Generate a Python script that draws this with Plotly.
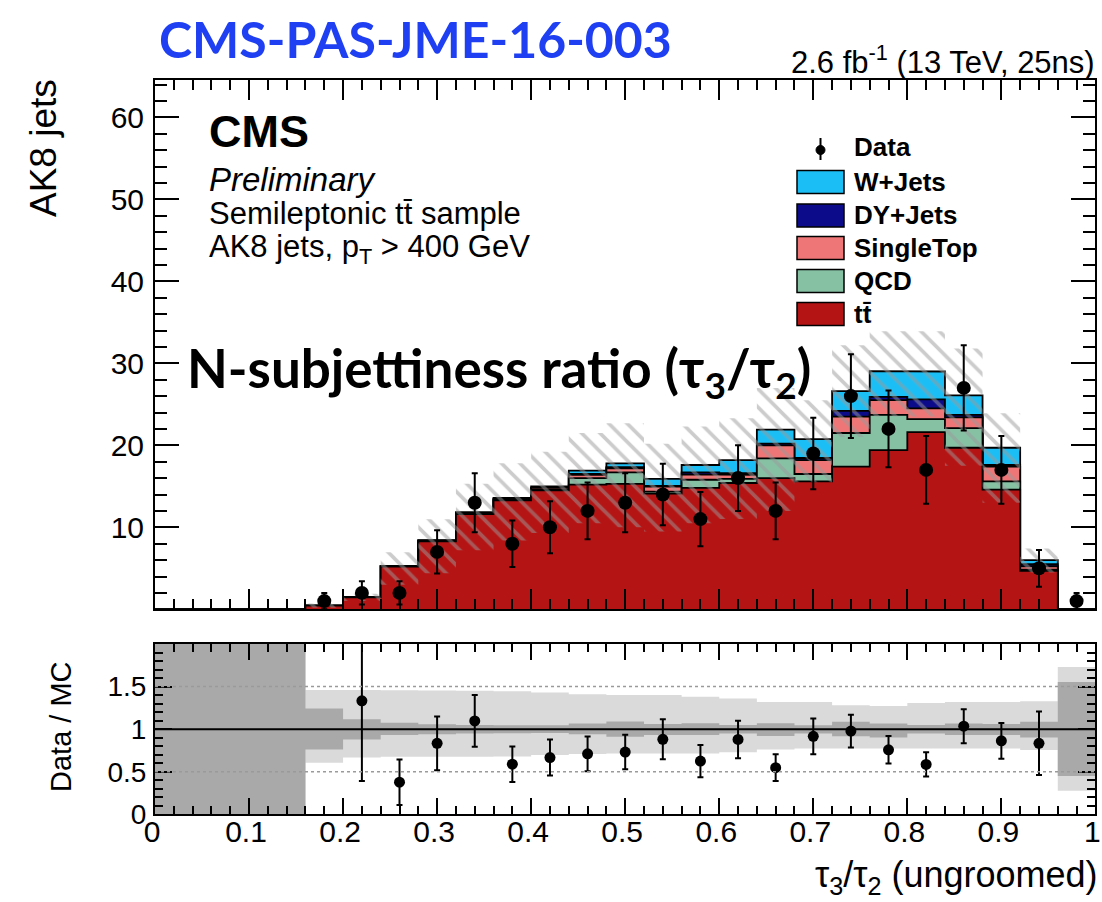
import numpy as np
import plotly.graph_objects as go

# ---- binning: 25 bins of tau3/tau2 ----
edges = np.round(np.linspace(0.0, 1.0, 26), 2)
centers = (edges[:-1] + edges[1:]) / 2

# ---- stacked MC yields per bin ----
ttbar = [0, 0, 0, 0, 0.45, 1.45, 5.2, 8.3, 11.6, 13.3, 14.5, 15.2, 15.3, 14.1, 14.8,
         15.4, 16.0, 15.6, 17.4, 19.4, 21.6, 19.7, 14.6, 4.7, 0]
qcd = [0, 0, 0, 0, 0, 0, 0, 0, 0, 0, 0.1, 0.8, 1.4, 0.25, 1.0,
       0.5, 2.4, 0.9, 4.1, 4.3, 1.6, 2.4, 1.0, 0.15, 0]
singletop = [0, 0, 0, 0, 0, 0.05, 0.1, 0.1, 0.15, 0.15, 0.2, 0.4, 0.5, 0.6, 0.65,
             0.5, 1.6, 1.7, 2.0, 1.8, 1.3, 1.3, 1.8, 0.4, 0]
dyjets = [0, 0, 0, 0, 0, 0, 0, 0, 0, 0.05, 0.05, 0.1, 0.15, 0.1, 0.25,
          0.2, 0.2, 0.25, 0.7, 0.4, 1.1, 0.3, 0.2, 0.25, 0]
wjets = [0, 0, 0, 0, 0, 0, 0, 0, 0.1, 0.1, 0.15, 0.4, 0.45, 0.85, 0.9,
         1.6, 1.7, 2.3, 2.4, 3.15, 3.4, 2.4, 2.1, 0.5, 0]

# ---- observed counts (None = empty bin) ----
data = [None, None, None, None, 1, 2, 2, 7, 13, 8, 10, 12, 13, 14, 11,
        16, 12, 19, 26, 22, 17, 27, 17, 5, 1]

# ---- MC systematic envelope in the upper panel (absolute yields) ----
mc_band_hi = [0, 0, 0, 0, 0.7, 1.9, 6.95, 10.97, 15.3, 17.8, 19.2, 21.5, 22.7, 20.2, 22.3,
              23.3, 27.0, 25.5, 32.2, 33.9, 33.9, 31.8, 23.9, 7.4, 0]
mc_band_lo = [0, 0, 0, 0, 0.2, 1.0, 3.0, 4.4, 7.2, 8.4, 9.3, 10.5, 10.0, 9.5, 10.5,
              11.0, 12.0, 15.5, 21.0, 23.5, 23.5, 17.5, 13.0, 4.5, 0]

# ---- ratio-panel uncertainty bands (relative to MC) ----
stat_hi = [2, 2, 2, 2, 1.243, 1.117, 1.074, 1.059, 1.05, 1.047, 1.045, 1.067, 1.09, 1.06, 1.07,
           1.05, 1.07, 1.047, 1.086, 1.067, 1.05, 1.067, 1.06, 1.086, 1.555]
stat_lo = [0, 0, 0, 0, 0.762, 0.879, 0.93, 0.941, 0.95, 0.953, 0.955, 0.94, 0.91, 0.93, 0.93,
           0.95, 0.92, 0.95, 0.918, 0.903, 0.95, 0.93, 0.93, 0.903, 0.449]
tot_hi = [2, 2, 2, 2, 1.46, 1.46, 1.457, 1.455, 1.45, 1.445, 1.43, 1.41, 1.40, 1.40, 1.38,
          1.36, 1.32, 1.32, 1.281, 1.273, 1.308, 1.32, 1.32, 1.328, 1.73]
tot_lo = [0, 0, 0, 0, 0.605, 0.668, 0.675, 0.675, 0.675, 0.68, 0.695, 0.707, 0.715, 0.715, 0.715,
          0.73, 0.76, 0.774, 0.774, 0.774, 0.774, 0.774, 0.774, 0.754, 0.277]

# ---- axis ticks ----
x_ticks = [0, 0.1, 0.2, 0.3, 0.4, 0.5, 0.6, 0.7, 0.8, 0.9, 1]
x_ticklabels = ["0", "0.1", "0.2", "0.3", "0.4", "0.5", "0.6", "0.7", "0.8", "0.9", "1"]
y_ticks = [10, 20, 30, 40, 50, 60]
r_ticks = [0, 0.5, 1, 1.5]
r_ticklabels = ["0", "0.5", "1", "1.5"]

# ---- colours ----
C_TT = "#b51414"
C_QCD = "#86c1a4"
C_ST = "#ef7676"
C_DY = "#0c0c8a"
C_WJ = "#1cbff5"

W, H = 1102, 902


def fx(p):
    return p / W


def fy(p):
    return 1 - p / H


def step_xy(vals):
    xs, ys = [], []
    for i, v in enumerate(vals):
        xs += [edges[i], edges[i + 1]]
        ys += [v, v]
    return xs, ys


fig = go.Figure()

# stacked histograms: draw cumulative sums from the top layer down
layers = [("W+Jets", C_WJ), ("DY+Jets", C_DY), ("SingleTop", C_ST), ("QCD", C_QCD), ("tt", C_TT)]
comp = np.array([ttbar, qcd, singletop, dyjets, wjets], dtype=float)
cum = np.cumsum(comp, axis=0)  # tt, +qcd, +st, +dy, +wj
mc_total = cum[-1]
for k, (name, col) in enumerate(layers):
    vals = cum[len(layers) - 1 - k]
    xs, ys = step_xy(vals)
    fig.add_trace(go.Scatter(x=xs, y=ys, mode="lines", fill="tozeroy", fillcolor=col,
                             line=dict(color="black", width=1.8), showlegend=False,
                             hoverinfo="skip", xaxis="x", yaxis="y"))

# hatched MC uncertainty envelope
xh, yh = step_xy(mc_band_hi)
xl, yl = step_xy(mc_band_lo)
fig.add_trace(go.Scatter(x=xh + xl[::-1], y=yh + yl[::-1], mode="none", fill="toself",
                         fillcolor="rgba(0,0,0,0)",
                         fillpattern=dict(shape="\\", fgcolor="#9a9a9a", bgcolor="rgba(0,0,0,0)",
                                          size=13, solidity=0.28, fillmode="overlay"),
                         showlegend=False, hoverinfo="skip", xaxis="x", yaxis="y"))

# data points with Poisson errors
dvals = np.array([np.nan if d is None else d for d in data], dtype=float)
fig.add_trace(go.Scatter(x=centers, y=dvals, mode="markers",
                         marker=dict(color="black", size=14),
                         error_y=dict(type="data", array=np.sqrt(dvals), color="black",
                                      thickness=2, width=3),
                         showlegend=False, xaxis="x", yaxis="y"))

# ---- ratio panel ----
for hi, lo, col in [(tot_hi, tot_lo, "#dadada"), (stat_hi, stat_lo, "#a9a9a9")]:
    xh, yh = step_xy(hi)
    xl, yl = step_xy(lo)
    fig.add_trace(go.Scatter(x=xh + xl[::-1], y=yh + yl[::-1], mode="none", fill="toself",
                             fillcolor=col, showlegend=False, hoverinfo="skip",
                             xaxis="x2", yaxis="y2"))

with np.errstate(divide="ignore", invalid="ignore"):
    ratio = np.where(mc_total > 0, dvals / mc_total, np.nan)
    ratio_err = np.where(mc_total > 0, np.sqrt(dvals) / mc_total, np.nan)
ratio = np.where(ratio <= 2, ratio, np.nan)
fig.add_trace(go.Scatter(x=centers, y=ratio, mode="markers",
                         marker=dict(color="black", size=11),
                         error_y=dict(type="data", array=ratio_err, color="black",
                                      thickness=2, width=3),
                         showlegend=False, xaxis="x2", yaxis="y2"))

# reference lines in the ratio panel
fig.add_shape(type="line", xref="x2", yref="y2", x0=0, x1=1, y0=1, y1=1,
              line=dict(color="black", width=2), layer="above")
for yv in (0.5, 1.5):
    fig.add_shape(type="line", xref="x2", yref="y2", x0=0, x1=1, y0=yv, y1=yv,
                  line=dict(color="#9a9a9a", width=1.5, dash="dot"), layer="above")

# ---- axes ----
xdom = [fx(155), fx(1095.4)]
axis_common = dict(showline=True, linecolor="black", linewidth=2, mirror="allticks",
                   showgrid=False, zeroline=False, ticks="inside", tickcolor="black",
                   tickwidth=1.5, automargin=False, ticklabeloverflow="allow")
fig.update_layout(
    template="none",
    xaxis=dict(domain=xdom, range=[0, 1], anchor="y", tickvals=x_ticks, ticklen=20,
               showticklabels=False,
               minor=dict(dtick=0.02, ticklen=10, ticks="inside", tickcolor="black", tickwidth=1.5),
               **axis_common),
    yaxis=dict(domain=[fy(609.3), fy(80)], range=[0, 64.55], anchor="x",
               tickvals=y_ticks, ticklen=24,
               tickfont=dict(family="Liberation Sans", size=30, color="black"),
               ticklabelstandoff=3,
               minor=dict(dtick=2, ticklen=12, ticks="inside", tickcolor="black", tickwidth=1.5),
               **axis_common),
    xaxis2=dict(domain=xdom, range=[0, 1], anchor="y2", tickvals=x_ticks, ticktext=x_ticklabels,
                ticklen=16,
                tickfont=dict(family="Liberation Sans", size=30, color="black"),
                ticklabelstandoff=-10, ticklabelshift=-3,
                minor=dict(dtick=0.02, ticklen=8, ticks="inside", tickcolor="black", tickwidth=1.5),
                **axis_common),
    yaxis2=dict(domain=[fy(814.3), fy(644)], range=[0, 2], anchor="x2",
                tickvals=r_ticks, ticktext=r_ticklabels, ticklen=17,
                tickfont=dict(family="Liberation Sans", size=28, color="black"),
                ticklabelstandoff=1,
                minor=dict(dtick=0.1, ticklen=8, ticks="inside", tickcolor="black", tickwidth=1.5),
                **axis_common),
)

# ---- texts ----
ann = []


def text(x, y, s, size, xanchor="left", yanchor="middle", family="Liberation Sans",
         color="black", angle=0):
    ann.append(dict(x=fx(x), y=fy(y), xref="paper", yref="paper", text=s, showarrow=False,
                    xanchor=xanchor, yanchor=yanchor, textangle=angle, borderpad=0,
                    font=dict(family=family, size=size, color=color)))


TT = "tt\u0304"
text(158, 39, "<b>CMS-PAS-JME-16-003</b>", 50, family="Lato", color="#1e3ff2")
text(1096, 60, "2.6 fb<sup>-1</sup> (13 TeV, 25ns)", 31, xanchor="right")
text(208, 131, "<b>CMS</b>", 45)
text(208, 179, "<i>Preliminary</i>", 33)
text(208, 213.5, "Semileptonic %s sample" % TT, 31)
text(208, 249, "AK8 jets, p<sub>T</sub> > 400 GeV", 31)
text(186, 372, "<b>N-subjettiness ratio (τ<sub>3</sub>/τ<sub>2</sub>)</b>", 53, family="Lato")
text(44, 78, "AK8 jets", 37, xanchor="center", yanchor="top", angle=-90)
text(61, 727, "Data / MC", 29, xanchor="center", angle=-90)
text(1099, 877, "τ<sub>3</sub>/τ<sub>2</sub> (ungroomed)", 36, xanchor="right")

# ---- legend (drawn in paper coordinates) ----
shapes = []
leg_x0, leg_x1, leg_tx = 797, 844, 853
shapes.append(dict(type="line", xref="paper", yref="paper", x0=fx(820.5), x1=fx(820.5),
                   y0=fy(138), y1=fy(160), line=dict(color="black", width=2)))
shapes.append(dict(type="circle", xref="paper", yref="paper", x0=fx(816), x1=fx(825),
                   y0=fy(145.5), y1=fy(154.5), fillcolor="black", line=dict(color="black", width=1)))
text(leg_tx, 147, "<b>Data</b>", 26)
leg_rows = [("W+Jets", C_WJ, 182), ("DY+Jets", C_DY, 215.5), ("SingleTop", C_ST, 248),
            ("QCD", C_QCD, 281), (TT, C_TT, 314)]
for lab, col, yc in leg_rows:
    shapes.append(dict(type="rect", xref="paper", yref="paper", x0=fx(leg_x0), x1=fx(leg_x1),
                       y0=fy(yc + 11.5), y1=fy(yc - 11.5), fillcolor=col,
                       line=dict(color="black", width=1.5)))
    text(leg_tx, yc, "<b>%s</b>" % lab, 26)

for s in shapes:
    fig.add_shape(**s)

fig.update_layout(annotations=ann, width=W, height=H, autosize=False,
                  margin=dict(l=0, r=0, t=0, b=0, pad=0), plot_bgcolor="white",
                  paper_bgcolor="white", showlegend=False)

fig.write_html("out.html")
